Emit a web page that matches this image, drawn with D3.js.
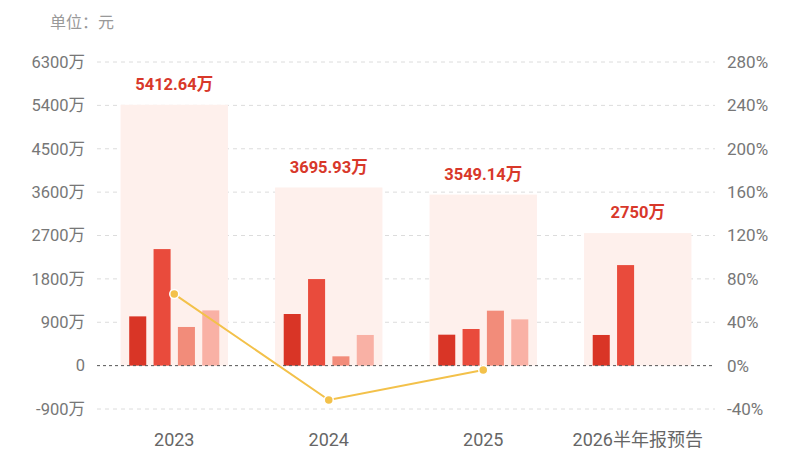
<!DOCTYPE html>
<html>
<head>
<meta charset="utf-8">
<script src="https://cdn.jsdelivr.net/npm/d3@7"></script>
<style>
  html, body { margin: 0; padding: 0; background: #fff; }
  svg { display: block; font-family: Roboto, "Noto Sans CJK SC", sans-serif; }
</style>
</head>
<body>
<svg id="chart" width="800" height="450"></svg>
<script>
// data (单位：万元)
const categories = ['2023', '2024', '2025', '2026半年报预告'];
const totals = [5412.64, 3695.93, 3549.14, 2750];
const totalLabels = ['5412.64万', '3695.93万', '3549.14万', '2750万'];
const quarters = ['Q1', 'Q2', 'Q3', 'Q4'];
const q1 = [1022, 1071, 642, 636];
const q2 = [2418, 1796, 760, 2086];
const q3 = [802, 193, 1140, null];
const q4 = [1146, 636, 960, null];
const growth = [66, -31.7, -4.0, null];
const leftTicks = [-900, 0, 900, 1800, 2700, 3600, 4500, 5400, 6300];
const rightTicks = [-40, 0, 40, 80, 120, 160, 200, 240, 280];

const quarterColors = ['#d93526', '#e94b3c', '#f28c7a', '#f9b1a5'];

const svg = d3.select('#chart');
const mLeft = 97, mRight = 715, mTop = 62, mBottom = 409;

const x = d3.scaleBand().domain(categories).range([mLeft, mRight]).padding(0);
const y = d3.scaleLinear().domain([-900, 6300]).range([mBottom, mTop]);
const yR = d3.scaleLinear().domain([-40, 280]).range([mBottom, mTop]);
const x1 = d3.scaleBand().domain(quarters)
    .range([0, x.bandwidth() * 0.583]).paddingInner(0.3);

// unit
svg.append('text')
    .attr('x', 50).attr('y', 28)
    .attr('fill', '#999').attr('font-size', 16)
    .text('单位：元');

// grid
svg.append('g').selectAll('line')
    .data(leftTicks.filter(d => d !== 0))
    .join('line')
    .attr('x1', mLeft).attr('x2', mRight)
    .attr('y1', d => y(d)).attr('y2', d => y(d))
    .attr('stroke', '#dcdcdc').attr('stroke-dasharray', '4,4');

// left axis
const axL = svg.append('g')
    .attr('transform', `translate(${mLeft - 9},0)`)
    .call(d3.axisLeft(y).tickValues(leftTicks).tickSize(0)
        .tickFormat(d => d === 0 ? '0' : d + '万'));
axL.select('.domain').remove();
axL.selectAll('text').attr('fill', '#777').attr('font-size', 16.5)
    .attr('font-family', 'Roboto, "Noto Sans CJK SC", sans-serif');

// right axis
const axR = svg.append('g')
    .attr('transform', `translate(${mRight + 9},0)`)
    .call(d3.axisRight(yR).tickValues(rightTicks).tickSize(0)
        .tickFormat(d => d + '%'));
axR.select('.domain').remove();
axR.selectAll('text').attr('fill', '#777').attr('font-size', 17)
    .attr('font-family', 'Roboto, "Noto Sans CJK SC", sans-serif');

// background total bars
const bgW = x.bandwidth() * 0.695;
svg.append('g').selectAll('rect')
    .data(totals)
    .join('rect')
    .attr('x', (d, i) => x(categories[i]) + (x.bandwidth() - bgW) / 2)
    .attr('width', bgW)
    .attr('y', d => y(d))
    .attr('height', d => y(0) - y(d))
    .attr('fill', '#fef0ec');

// total labels
svg.append('g').selectAll('text')
    .data(totals)
    .join('text')
    .attr('x', (d, i) => x(categories[i]) + x.bandwidth() / 2)
    .attr('y', d => y(d) - 15)
    .attr('text-anchor', 'middle')
    .attr('fill', '#d8382a')
    .attr('font-size', 16.5)
    .attr('font-weight', 'bold')
    .text((d, i) => totalLabels[i]);

// quarter bars
const series = [q1, q2, q3, q4];
const off = (x.bandwidth() - x1.range()[1]) / 2;
series.forEach((vals, s) => {
    svg.append('g').selectAll('rect')
        .data(vals.map((v, i) => ({ v, i })).filter(d => d.v != null))
        .join('rect')
        .attr('x', d => x(categories[d.i]) + off + x1(quarters[s]))
        .attr('width', x1.bandwidth())
        .attr('y', d => y(Math.max(0, d.v)))
        .attr('height', d => Math.abs(y(d.v) - y(0)))
        .attr('fill', quarterColors[s]);
});

// zero line
svg.append('line')
    .attr('x1', mLeft).attr('x2', mRight)
    .attr('y1', y(0)).attr('y2', y(0))
    .attr('stroke', '#555').attr('stroke-dasharray', '3,3');

// growth line
const pts = growth.map((g, i) => ({ g, i })).filter(d => d.g != null);
const line = d3.line()
    .x(d => x(categories[d.i]) + x.bandwidth() / 2)
    .y(d => yR(d.g));
svg.append('path').datum(pts)
    .attr('fill', 'none').attr('stroke', '#f3c14a').attr('stroke-width', 2)
    .attr('d', line);
svg.append('g').selectAll('circle')
    .data(pts)
    .join('circle')
    .attr('cx', d => x(categories[d.i]) + x.bandwidth() / 2)
    .attr('cy', d => yR(d.g))
    .attr('r', 4.5)
    .attr('fill', '#f3c14a').attr('stroke', '#fff').attr('stroke-width', 1.5);

// category labels
svg.append('g').selectAll('text')
    .data(categories)
    .join('text')
    .attr('x', d => x(d) + x.bandwidth() / 2)
    .attr('y', 446)
    .attr('text-anchor', 'middle')
    .attr('fill', '#666')
    .attr('font-size', 18)
    .text(d => d);
</script>
</body>
</html>
